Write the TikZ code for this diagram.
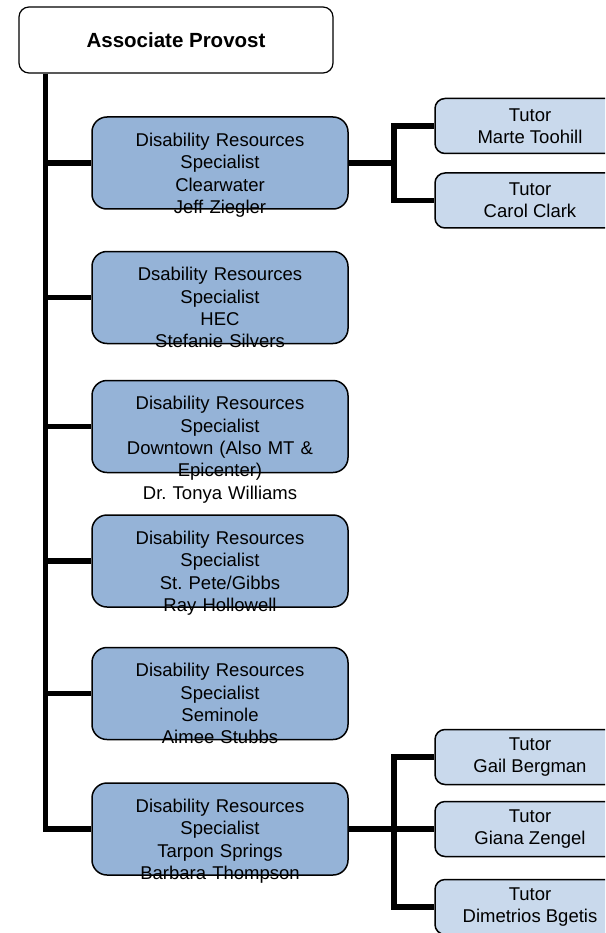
\documentclass[tikz,border=0pt]{standalone}
\usepackage{fontspec}
\setmainfont{Liberation Sans}
\frenchspacing

\definecolor{specblue}{HTML}{95B3D7}
\definecolor{tutorblue}{HTML}{C9D9EC}

\tikzset{
  headbox/.style={draw, line width=1.2pt, rounded corners=10pt, fill=white,
    minimum width=314pt, minimum height=66pt,
    font=\fontsize{20.5}{24}\selectfont\bfseries},
  specbox/.style={draw, line width=1.5pt, rounded corners=15pt, fill=specblue,
    minimum width=256pt, minimum height=92pt},
  spectext/.style={anchor=base, text width=256pt, align=center, inner sep=0pt,
    font=\fontsize{18.5}{22.4}\selectfont},
  tutorbox/.style={draw, line width=1.5pt, rounded corners=10pt, fill=tutorblue,
    minimum width=190pt, minimum height=55pt, align=center,
    font=\fontsize{18.5}{22.4}\selectfont},
  link/.style={line width=5.5pt}
}

\begin{document}
\begin{tikzpicture}[x=1pt, y=-1pt]
	\useasboundingbox (0,0) rectangle (605,933);
	\clip (0,0) rectangle (605,933);

	% head
	\node[headbox] (prov) at (176,40) {Associate Provost};

	% specialists
	\node[specbox] (clw) at (220,163) {};
	\node[specbox] (hec) at (220,297.5) {};
	\node[specbox] (dtn) at (220,426.5) {};
	\node[specbox] (spg) at (220,561) {};
	\node[specbox] (sem) at (220,693.5) {};
	\node[specbox] (tsp) at (220,829) {};

	% tutors
	\node[tutorbox] (toohill) at (530,126) {Tutor\\Marte Toohill};
	\node[tutorbox] (clark) at (530,200.5) {Tutor\\Carol Clark};
	\node[tutorbox] (bergman) at (530,757) {Tutor\\Gail Bergman};
	\node[tutorbox] (zengel) at (530,829) {Tutor\\Giana Zengel};
	\node[tutorbox] (bgetis) at (530,907) {Tutor\\Dimetrios Bgetis};

	% trunk
	\coordinate (trunk) at (45.5,0);
	\draw[link] (prov.south -| trunk) |- (tsp.west);
	\draw[link] (trunk |- clw.west) -- (clw.west);
	\draw[link] (trunk |- hec.west) -- (hec.west);
	\draw[link] (trunk |- dtn.west) -- (dtn.west);
	\draw[link] (trunk |- spg.west) -- (spg.west);
	\draw[link] (trunk |- sem.west) -- (sem.west);

	% forks to tutors
	\coordinate (fork) at (394,0);
	\draw[link] (clw.east) -- (clw.east -| fork);
	\draw[link] (toohill.west) -| (fork |- clw.east) |- (clark.west);
	\draw[link] (tsp.east) -- (zengel.west);
	\draw[link] (bergman.west) -| (fork |- tsp.east) |- (bgetis.west);

	% texts
	\node[spectext] (clwtext) at ([yshift=-30pt]clw.north) {Disability Resources\\Specialist\\Clearwater\\Jeff Ziegler};
	\node[spectext] (hectext) at ([yshift=-30pt]hec.north) {Dsability Resources\\Specialist\\HEC\\Stefanie Silvers};
	\node[spectext] (dtntext) at ([yshift=-30pt]dtn.north) {Disability Resources\\Specialist\\Downtown (Also MT \&\\Epicenter)\\Dr. Tonya Williams};
	\node[spectext] (spgtext) at ([yshift=-30pt]spg.north) {Disability Resources\\Specialist\\St. Pete/Gibbs\\Ray Hollowell};
	\node[spectext] (semtext) at ([yshift=-30pt]sem.north) {Disability Resources\\Specialist\\Seminole\\Aimee Stubbs};
	\node[spectext] (tsptext) at ([yshift=-30pt]tsp.north) {Disability Resources\\Specialist\\Tarpon Springs\\Barbara Thompson};

\end{tikzpicture}
\end{document}
